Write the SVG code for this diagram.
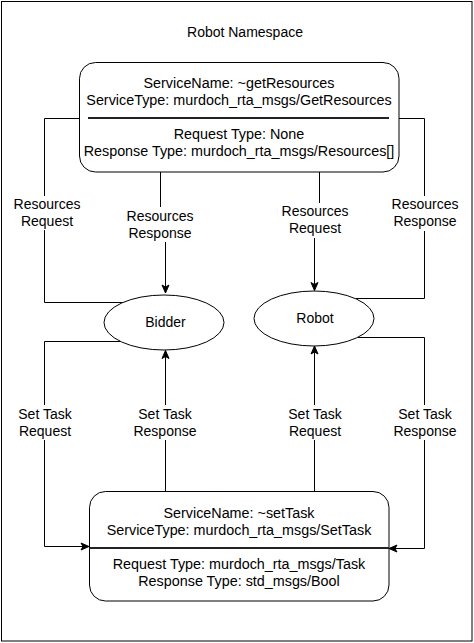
<svg xmlns="http://www.w3.org/2000/svg" width="474" height="643" viewBox="0 0 474 643">
<style>
text{font-family:"Liberation Sans",Arial,sans-serif;font-size:14px;fill:#000;text-anchor:middle}
.nt{font-size:14.35px}
.box{fill:#fff;stroke:#000;stroke-width:1}
.div{stroke:#222;stroke-width:2;fill:none}
.ln{stroke:#000;stroke-width:1;fill:none}
.lbl{fill:#fff;stroke:none}
</style>
<defs>
<marker id="arr" markerUnits="userSpaceOnUse" markerWidth="10" markerHeight="10" refX="9" refY="4.5" orient="auto">
<path d="M1,1 L9,4.5 L1,8 L3,4.5 Z" fill="#000" stroke="#000" stroke-width="1"/>
</marker>
</defs>
<rect x="1.5" y="1.5" width="470.5" height="639.5" fill="#fff" stroke="#000" stroke-width="1"/>
<text x="245" y="37">Robot Namespace</text>

<g id="connectors">
<path class="ln" d="M123,302.5 H44.5 V118.5 H88" marker-end="url(#arr)"/>
<path class="ln" d="M356,298.5 H424.5 V118.5 H389" marker-end="url(#arr)"/>
<path class="ln" d="M160.5,172 V224 H165.5 V293" marker-end="url(#arr)"/>
<path class="ln" d="M319.5,172 V221 H314.5 V290.5" marker-end="url(#arr)"/>
<path class="ln" d="M121,341.5 H44.5 V546.5 H89" marker-end="url(#arr)"/>
<path class="ln" d="M165.5,491 V350.5" marker-end="url(#arr)"/>
<path class="ln" d="M314.5,491 V346" marker-end="url(#arr)"/>
<path class="ln" d="M357,337.5 H424.5 V548.5 H389" marker-end="url(#arr)"/>
<g>
<rect class="lbl" x="10" y="196" width="73" height="34"/>
<text x="47" y="208.5">Resources</text><text x="47" y="225.5">Request</text>
<rect class="lbl" x="125" y="207" width="70" height="35"/>
<text x="160" y="220.5">Resources</text><text x="160" y="237.5">Response</text>
<rect class="lbl" x="280" y="203" width="70" height="35"/>
<text x="315" y="216">Resources</text><text x="315" y="233">Request</text>
<rect class="lbl" x="390" y="196" width="70" height="35"/>
<text x="425" y="209">Resources</text><text x="425" y="226">Response</text>
<rect class="lbl" x="15" y="405" width="60" height="35"/>
<text x="45" y="418.5">Set Task</text><text x="45" y="435.5">Request</text>
<rect class="lbl" x="133" y="405" width="65" height="35"/>
<text x="165" y="418.5">Set Task</text><text x="165" y="435.5">Response</text>
<rect class="lbl" x="285" y="405" width="60" height="35"/>
<text x="315" y="418.5">Set Task</text><text x="315" y="435.5">Request</text>
<rect class="lbl" x="392" y="405" width="66" height="35"/>
<text x="425" y="418.5">Set Task</text><text x="425" y="435.5">Response</text>
</g>
</g>

<g id="getResources">
<rect class="box" x="79.5" y="62.5" width="319.5" height="109.5" rx="16"/>
<line class="div" x1="88" y1="118" x2="389" y2="118"/>
<text class="nt" x="239" y="87.5">ServiceName: ~getResources</text>
<text class="nt" x="239" y="105">ServiceType: murdoch_rta_msgs/GetResources</text>
<text class="nt" x="239" y="138.5">Request Type: None</text>
<text class="nt" x="239" y="156">Response Type: murdoch_rta_msgs/Resources[]</text>
</g>

<g id="bidder">
<ellipse class="box" cx="164" cy="322.5" rx="60" ry="27.5"/>
<text x="165.5" y="327">Bidder</text>
</g>

<g id="robot">
<ellipse class="box" cx="314" cy="318.5" rx="60" ry="27.5"/>
<text x="315" y="323">Robot</text>
</g>

<g id="setTask">
<rect class="box" x="89.5" y="491.5" width="299.5" height="109.5" rx="16"/>
<line class="div" x1="89.5" y1="548" x2="389" y2="548"/>
<text class="nt" x="239" y="517.5">ServiceName: ~setTask</text>
<text class="nt" x="239" y="534.5">ServiceType: murdoch_rta_msgs/SetTask</text>
<text class="nt" x="239" y="568.5">Request Type: murdoch_rta_msgs/Task</text>
<text class="nt" x="239" y="586">Response Type: std_msgs/Bool</text>
</g>
</svg>
